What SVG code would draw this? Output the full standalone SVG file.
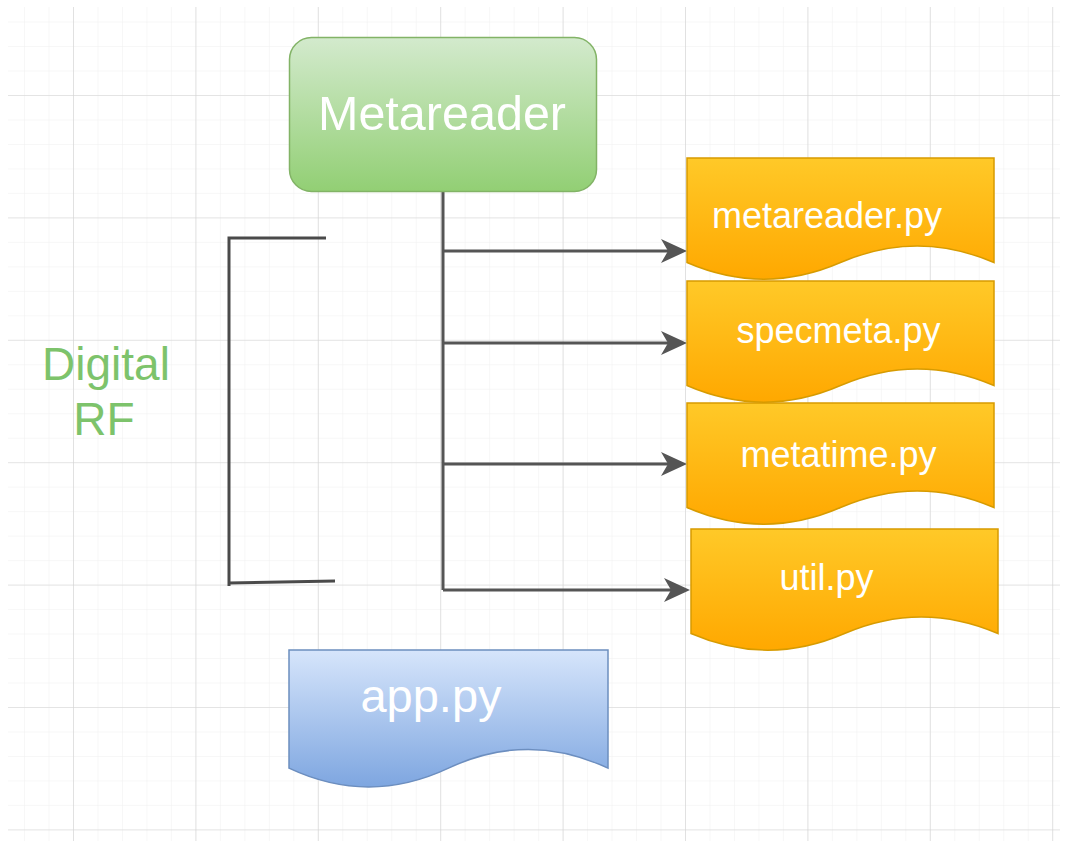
<svg xmlns="http://www.w3.org/2000/svg" width="1066" height="841" viewBox="0 0 1066 841">
  <defs>
    <pattern id="minor" x="73" y="95" width="24.48" height="24.48" patternUnits="userSpaceOnUse">
      <path d="M0,0 V24.48 M0,0 H24.48" fill="none" stroke="#efefef" stroke-width="1"/>
    </pattern>
    <pattern id="major" x="73" y="95" width="122.4" height="122.4" patternUnits="userSpaceOnUse">
      <path d="M0,0 V122.4 M0,0 H122.4" fill="none" stroke="#d2d2d2" stroke-width="1.2"/>
    </pattern>
    <linearGradient id="gGreen" x1="0" y1="0" x2="0" y2="1">
      <stop offset="0" stop-color="#d3eacd"/>
      <stop offset="1" stop-color="#92cf74"/>
    </linearGradient>
    <linearGradient id="gOrange" x1="0" y1="0" x2="0" y2="1">
      <stop offset="0" stop-color="#ffc928"/>
      <stop offset="1" stop-color="#ffa800"/>
    </linearGradient>
    <linearGradient id="gBlue" x1="0" y1="0" x2="0" y2="1">
      <stop offset="0" stop-color="#d6e5fb"/>
      <stop offset="1" stop-color="#7ea6e0"/>
    </linearGradient>
    <marker id="arrow" markerUnits="userSpaceOnUse" markerWidth="30" markerHeight="30" viewBox="0 0 30 30" refX="8" refY="15" orient="auto">
      <path d="M27,15 L1,3 L8,15 L1,27 Z" fill="#555555"/>
    </marker>
    <style>
      .doc-o { fill: url(#gOrange); stroke: #d79b00; stroke-width: 1.5; }
      .doc-b { fill: url(#gBlue); stroke: #6c8ebf; stroke-width: 1.5; }
      .lbl { font-family: "Liberation Sans", Arial, sans-serif; fill: #ffffff; }
      .file { font-size: 36px; text-anchor: middle; }
      .conn { fill: none; stroke: #555555; stroke-width: 3; }
      .br { fill: none; stroke: #4a4a4a; stroke-width: 3; }
      .side { font-family: "Liberation Sans", Arial, sans-serif; font-size: 46px; fill: #7dc36b; text-anchor: middle; }
    </style>
  </defs>

  <rect x="0" y="0" width="1066" height="841" fill="#ffffff"/>
  <g id="grid">
    <rect x="8" y="7" width="1052" height="834" fill="url(#minor)"/>
    <rect x="8" y="7" width="1052" height="834" fill="url(#major)"/>
  </g>

  <g id="connectors">
    <path class="conn" d="M443,192 V590"/>
    <path class="conn" d="M443,251 H668" marker-end="url(#arrow)"/>
    <path class="conn" d="M443,343 H668" marker-end="url(#arrow)"/>
    <path class="conn" d="M443,464 H668" marker-end="url(#arrow)"/>
    <path class="conn" d="M443,590 H671" marker-end="url(#arrow)"/>
  </g>

  <g id="bracket">
    <path class="br" d="M326,238 H229 V586"/>
    <path class="br" d="M229,583 L335,581"/>
  </g>

  <g id="digital-rf">
    <text class="side" x="106" y="380">Digital</text>
    <text class="side" x="104" y="435">RF</text>
  </g>

  <g id="metareader">
    <rect x="289.5" y="37.5" width="307" height="154" rx="22" ry="22" fill="url(#gGreen)" stroke="#82b366" stroke-width="1.5"/>
    <text class="lbl" x="442" y="130" font-size="48.5" text-anchor="middle">Metareader</text>
  </g>

  <g id="metareader-py">
    <path class="doc-o" d="M687,158 H994 V262.55 Q917.25,229.34 840.5,262.55 Q763.75,295.76 687,262.55 Z"/>
    <text class="lbl file" x="827" y="228">metareader.py</text>
  </g>

  <g id="specmeta-py">
    <path class="doc-o" d="M687,281 H994 V385.55 Q917.25,352.34 840.5,385.55 Q763.75,418.76 687,385.55 Z"/>
    <text class="lbl file" x="838.5" y="343">specmeta.py</text>
  </g>

  <g id="metatime-py">
    <path class="doc-o" d="M687,403 H994 V507.55 Q917.25,474.34 840.5,507.55 Q763.75,540.76 687,507.55 Z"/>
    <text class="lbl file" x="838.5" y="467">metatime.py</text>
  </g>

  <g id="util-py">
    <path class="doc-o" d="M691,529 H998 V633.55 Q921.25,600.34 844.5,633.55 Q767.75,666.76 691,633.55 Z"/>
    <text class="lbl file" x="826.5" y="590">util.py</text>
  </g>

  <g id="app-py">
    <path class="doc-b" d="M289,650 H608 V768.15 Q528.25,730.62 448.5,768.15 Q368.75,805.68 289,768.15 Z"/>
    <text class="lbl" x="431" y="712" font-size="47" text-anchor="middle">app.py</text>
  </g>
</svg>
